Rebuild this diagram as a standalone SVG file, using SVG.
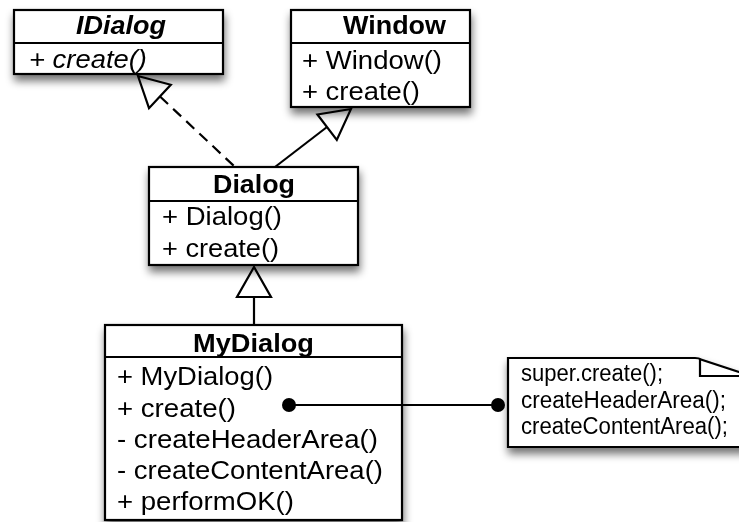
<svg xmlns="http://www.w3.org/2000/svg" width="739" height="522" viewBox="0 0 739 522">
  <defs>
    <filter id="shadow" x="-20%" y="-20%" width="140%" height="150%">
      <feGaussianBlur in="SourceAlpha" stdDeviation="4"/>
      <feOffset dx="1" dy="6" result="blur"/>
      <feComponentTransfer><feFuncA type="linear" slope="0.55"/></feComponentTransfer>
      <feMerge><feMergeNode/><feMergeNode in="SourceGraphic"/></feMerge>
    </filter>
  </defs>
  <style>
    .box { fill: #fff; stroke: #000; stroke-width: 2.2; }
    .sep { stroke: #000; stroke-width: 2.2; }
    .t { font-family: "Liberation Sans", Arial, sans-serif; font-size: 26px; fill: #000; }
    .title { font-weight: bold; }
    .it { font-style: italic; }
    .note { font-family: "Liberation Sans", Arial, sans-serif; font-size: 23.5px; fill: #000; }
    .edge { fill: none; stroke: #000; stroke-width: 2.2; }
    .head { fill: #fff; stroke: #000; stroke-width: 2.2; stroke-linejoin: miter; }
  </style>
  <rect width="739" height="522" fill="#fff"/>

  <!-- inheritance and realization edges -->
  <g id="connectors">
    <!-- Dialog realizes IDialog -->
    <line class="edge" x1="160" y1="96.5" x2="235" y2="167" stroke-dasharray="11 7"/>
    <polygon class="head" points="138,76 149,108.2 170.8,84.8"/>
    <!-- Dialog extends Window -->
    <line class="edge" x1="327" y1="127" x2="275" y2="167"/>
    <polygon class="head" points="351,109 317.4,114.5 336.8,139.9"/>
    <!-- MyDialog extends Dialog -->
    <line class="edge" x1="254" y1="297" x2="254" y2="325"/>
    <polygon class="head" points="254,267 237,297 271,297"/>
  </g>

  <g id="IDialog" filter="url(#shadow)">
    <rect class="box" x="14" y="10" width="209" height="64"/>
    <line class="sep" x1="14" y1="43" x2="223" y2="43"/>
    <text class="t title it" x="76" y="34" textLength="90" lengthAdjust="spacingAndGlyphs">IDialog</text>
    <text class="t it" x="29" y="68" textLength="118" lengthAdjust="spacingAndGlyphs">+ create()</text>
  </g>

  <g id="Window" filter="url(#shadow)">
    <rect class="box" x="291" y="10" width="179" height="97"/>
    <line class="sep" x1="291" y1="43" x2="470" y2="43"/>
    <text class="t title" x="343" y="34" textLength="103" lengthAdjust="spacingAndGlyphs">Window</text>
    <text class="t" x="302" y="69" textLength="140" lengthAdjust="spacingAndGlyphs">+ Window()</text>
    <text class="t" x="302" y="100" textLength="118" lengthAdjust="spacingAndGlyphs">+ create()</text>
  </g>

  <g id="Dialog" filter="url(#shadow)">
    <rect class="box" x="149" y="167" width="209" height="98"/>
    <line class="sep" x1="149" y1="201" x2="358" y2="201"/>
    <text class="t title" x="213" y="193" textLength="82" lengthAdjust="spacingAndGlyphs">Dialog</text>
    <text class="t" x="162" y="225" textLength="120" lengthAdjust="spacingAndGlyphs">+ Dialog()</text>
    <text class="t" x="162" y="257" textLength="117" lengthAdjust="spacingAndGlyphs">+ create()</text>
  </g>

  <g id="MyDialog" filter="url(#shadow)">
    <rect class="box" x="105" y="325" width="297" height="195"/>
    <line class="sep" x1="105" y1="357" x2="402" y2="357"/>
    <text class="t title" x="193" y="352" textLength="121" lengthAdjust="spacingAndGlyphs">MyDialog</text>
    <text class="t" x="117" y="385" textLength="156" lengthAdjust="spacingAndGlyphs">+ MyDialog()</text>
    <text class="t" x="117" y="417" textLength="119" lengthAdjust="spacingAndGlyphs">+ create()</text>
    <text class="t" x="117" y="448" textLength="261" lengthAdjust="spacingAndGlyphs">- createHeaderArea()</text>
    <text class="t" x="117" y="479" textLength="266" lengthAdjust="spacingAndGlyphs">- createContentArea()</text>
    <text class="t" x="117" y="510" textLength="177" lengthAdjust="spacingAndGlyphs">+ performOK()</text>
  </g>

  <g id="note" filter="url(#shadow)">
    <path class="box" d="M508,358 H695 Q699,358 701,359.5 L751,376 V447 H508 Z"/>
    <path class="edge" d="M700,359.5 V376 H751"/>
    <text class="note" x="521" y="381" textLength="142" lengthAdjust="spacingAndGlyphs">super.create();</text>
    <text class="note" x="521" y="408" textLength="205" lengthAdjust="spacingAndGlyphs">createHeaderArea();</text>
    <text class="note" x="521" y="434" textLength="207" lengthAdjust="spacingAndGlyphs">createContentArea();</text>
  </g>

  <!-- note anchor from create() to the note, drawn above both shapes -->
  <g id="note-link">
    <line class="edge" x1="289" y1="405" x2="498" y2="405"/>
    <circle cx="289" cy="405" r="7"/>
    <circle cx="498" cy="405" r="7"/>
  </g>
</svg>
